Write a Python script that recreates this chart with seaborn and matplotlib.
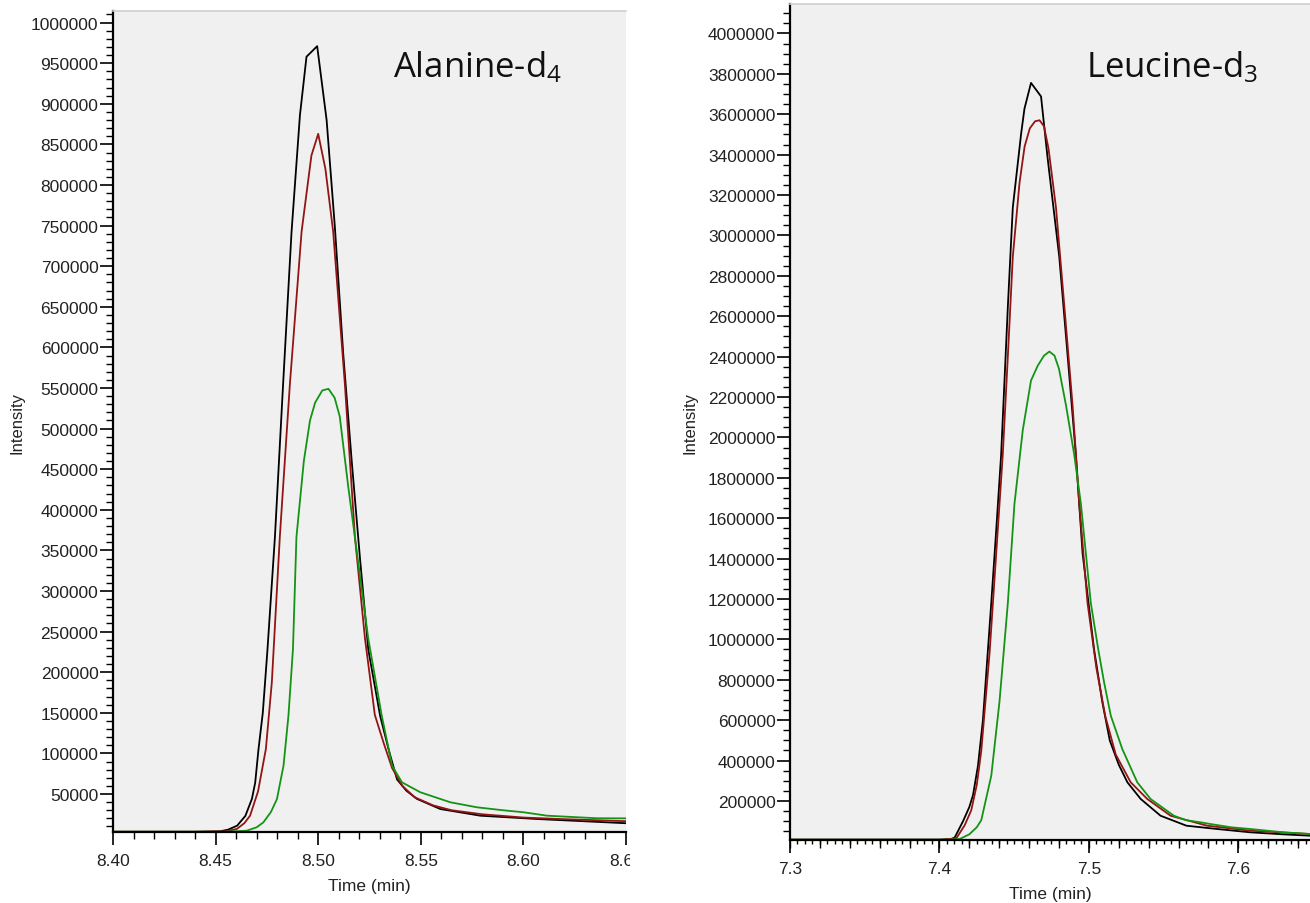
# =====================================================
# 1. IMPORT LIBRARY
# =====================================================
import pandas as pd
import numpy as np

import matplotlib
matplotlib.use("Agg")
import matplotlib.pyplot as plt
import seaborn as sns
from matplotlib.ticker import MultipleLocator, FormatStrFormatter
from matplotlib.transforms import Bbox, TransformedBbox

# =====================================================
# 2. DATA
# =====================================================
trace_order = ["black", "red", "green"]
trace_colors = {"black": "#000000", "red": "#941414", "green": "#149414"}

# ---- Alanine-d4 ----
ala_black_t = [8.400, 8.440, 8.452, 8.456, 8.4605, 8.4645, 8.4677, 8.4693, 8.4709, 8.4730,
               8.4752, 8.4789, 8.4829, 8.4870, 8.4911, 8.4943, 8.4995, 8.5041, 8.5081, 8.5122,
               8.5163, 8.5203, 8.5244, 8.5302, 8.5343, 8.5384, 8.5430, 8.5481, 8.5595, 8.5790,
               8.6067, 8.6408, 8.6500]
ala_black_i = [3500, 3500, 4000, 6000, 11000, 23000, 44000, 64000, 105000, 150000,
               225000, 366000, 555000, 742000, 886000, 958000, 971000, 880000, 749000, 592000,
               461000, 342000, 228000, 146000, 105000, 68000, 54000, 44000, 31500, 23300,
               19200, 15100, 14000]

ala_red_t = [8.400, 8.440, 8.455, 8.4603, 8.4640, 8.4668, 8.4707, 8.4745, 8.4774, 8.4813,
             8.4862, 8.4919, 8.4967, 8.5000, 8.5035, 8.5073, 8.5130, 8.5179, 8.5228, 8.5276,
             8.5320, 8.5360, 8.5410, 8.5470, 8.5560, 8.5650, 8.5800, 8.6000, 8.6200, 8.6500]
ala_red_i = [3500, 3500, 4000, 6900, 14000, 23300, 53400, 105400, 187500, 366700,
             554700, 742500, 836400, 863000, 820000, 742500, 554700, 366700, 241400, 147400,
             112000, 82000, 60000, 46000, 36000, 30000, 25000, 21000, 19000, 16500]

ala_green_t = [8.400, 8.455, 8.4652, 8.4700, 8.4733, 8.4770, 8.4799, 8.4831, 8.4855, 8.4877,
               8.4894, 8.4930, 8.4960, 8.4985, 8.5020, 8.5050, 8.5080, 8.5105, 8.5146, 8.5195,
               8.5244, 8.5309, 8.5360, 8.5408, 8.5498, 8.5644, 8.5774, 8.5900, 8.6001, 8.6115,
               8.6360, 8.6500]
ala_green_i = [3500, 3500, 4800, 9000, 15100, 28000, 43800, 84900, 146400, 228500,
               366700, 460000, 510000, 532000, 547000, 549000, 538000, 515000, 429300, 335300,
               241400, 147400, 84900, 64400, 52100, 39800, 33600, 30000, 27500, 23300,
               20100, 20000]

# ---- Leucine-d3 ----
leu_black_t = [7.300, 7.400, 7.4080, 7.4102, 7.4158, 7.4200, 7.4225, 7.4258, 7.4291, 7.4325,
               7.4347, 7.4380, 7.4413, 7.4458, 7.4491, 7.4547, 7.4569, 7.4613, 7.4680, 7.4724,
               7.4802, 7.4858, 7.4913, 7.4958, 7.5035, 7.5090, 7.5140, 7.5200, 7.5258, 7.5347,
               7.5480, 7.5653, 7.5858, 7.6080, 7.6300, 7.6480]
leu_black_i = [8500, 8500, 12000, 19000, 100000, 170000, 230000, 374800, 600000, 952500,
               1181000, 1540000, 1915000, 2649000, 3138000, 3505000, 3627000, 3755000, 3688000, 3383000,
               2894000, 2404000, 1915000, 1426000, 950000, 690000, 500000, 380000, 292500, 210000,
               127000, 77700, 61400, 45000, 35000, 28200]

leu_red_t = [7.300, 7.402, 7.4113, 7.4169, 7.4213, 7.4250, 7.4280, 7.4336, 7.4380, 7.4424,
             7.4458, 7.4491, 7.4536, 7.4570, 7.4605, 7.4640, 7.4670, 7.4700, 7.4730, 7.4780,
             7.4836, 7.4891, 7.4936, 7.4991, 7.5050, 7.5110, 7.5180, 7.5280, 7.5391, 7.5547,
             7.5791, 7.6080, 7.6480]
leu_red_i = [8500, 8500, 15000, 80000, 154000, 280000, 447500, 936600, 1426000, 1915000,
             2404000, 2894000, 3260000, 3440000, 3530000, 3565000, 3570000, 3540000, 3430000, 3138000,
             2649000, 2159000, 1670000, 1181000, 860000, 620000, 430000, 292500, 210000, 127000,
             77700, 53000, 36600]

leu_green_t = [7.300, 7.405, 7.4136, 7.4200, 7.4250, 7.4280, 7.4347, 7.4402, 7.4458, 7.4502,
               7.4558, 7.4613, 7.4658, 7.4700, 7.4736, 7.4770, 7.4800, 7.4847, 7.4902, 7.4947,
               7.4980, 7.5013, 7.5063, 7.5102, 7.5147, 7.5224, 7.5324, 7.5413, 7.5569, 7.5650,
               7.5747, 7.5813, 7.5950, 7.6080, 7.6302, 7.6480]
leu_green_i = [8500, 8500, 12000, 35000, 70000, 105000, 325000, 692000, 1181000, 1670000,
               2037000, 2282000, 2355000, 2405000, 2425000, 2405000, 2340000, 2159000, 1915000, 1670000,
               1426000, 1181000, 950000, 787600, 622000, 457000, 292500, 210000, 127000, 105000,
               94500, 86100, 70000, 61400, 45000, 36600]


# =====================================================
# 3. BUILD FRAME
# =====================================================
def make_frame(traces):
    parts = []
    for name, t, i in traces:
        parts.append(pd.DataFrame({"time": t, "intensity": i, "trace": name}))
    return pd.concat(parts, ignore_index=True)


# =====================================================
# 4. STYLE ONE PANEL
# =====================================================
def style_panel(ax, xlim, ylim, xmaj, xmin, ymaj, ymin, xfmt):
    ax.set_facecolor("#f0f0f0")
    ax.set_xlim(*xlim)
    ax.set_ylim(*ylim)

    ax.xaxis.set_major_locator(MultipleLocator(xmaj))
    ax.xaxis.set_minor_locator(MultipleLocator(xmin))
    ax.yaxis.set_major_locator(MultipleLocator(ymaj))
    ax.yaxis.set_minor_locator(MultipleLocator(ymin))
    ax.xaxis.set_major_formatter(FormatStrFormatter(xfmt))
    ax.yaxis.set_major_formatter(FormatStrFormatter("%d"))

    for side in ["left", "bottom"]:
        ax.spines[side].set_color("black")
        ax.spines[side].set_linewidth(1.6)
    ax.spines["top"].set_color("#cfcfcf")
    ax.spines["top"].set_linewidth(1.2)
    ax.spines["right"].set_visible(False)

    ax.tick_params(axis="both", which="major", direction="out", length=9.5, width=1.2,
                   color="black", labelsize=12.5, labelcolor="#222222")
    ax.tick_params(axis="both", which="minor", direction="out", length=5, width=1.0,
                   color="black")
    ax.tick_params(axis="y", which="major", pad=1.0)
    ax.tick_params(axis="x", which="major", pad=5.5)
    ax.tick_params(left=True, bottom=True, which="both")


def draw_panel(ax, df, title, tx, ty):
    sns.lineplot(data=df, x="time", y="intensity", hue="trace", hue_order=trace_order,
                 palette=trace_colors, estimator=None, sort=False, legend=False,
                 linewidth=1.3, ax=ax)
    ax.set_xlabel("Time (min)", fontsize=12.5, color="#222222")
    ax.set_ylabel("Intensity", fontsize=12, color="#222222")
    ax.text(tx, ty, title, transform=ax.transAxes, fontsize=25, family="Open Sans",
            ha="left", va="baseline", color="#111111")


# =====================================================
# 5. MAIN
# =====================================================
def run():
    sns.set_theme(style="white")
    plt.rcParams["font.family"] = ["Liberation Sans", "DejaVu Sans"]

    W, H = 1310, 904
    fig = plt.figure(figsize=(W / 100, H / 100), dpi=100)
    ax1 = fig.add_axes([113 / W, 1 - 833 / H, (626 - 113) / W, (833 - 12) / H])
    ax2 = fig.add_axes([790 / W, 1 - 841 / H, (1310 - 790) / W, (841 - 5) / H])

    ala = make_frame([("black", ala_black_t, ala_black_i),
                      ("red", ala_red_t, ala_red_i),
                      ("green", ala_green_t, ala_green_i)])
    leu = make_frame([("black", leu_black_t, leu_black_i),
                      ("red", leu_red_t, leu_red_i),
                      ("green", leu_green_t, leu_green_i)])

    draw_panel(ax1, ala, "Alanine-d$\\mathregular{_4}$", 0.546, 0.92)
    draw_panel(ax2, leu, "Leucine-d$\\mathregular{_3}$", 0.569, 0.913)

    style_panel(ax1, (8.40, 8.65), (3200, 1014300), 0.05, 0.01, 50000, 10000, "%.2f")
    style_panel(ax2, (7.30, 7.648), (6900, 4145600), 0.1, 0.005, 200000, 50000, "%.1f")
    ax2.tick_params(axis="x", which="minor", length=3)

    # medium ticks every 0.02 min on the right panel
    sec = ax2.secondary_xaxis("bottom")
    sec.xaxis.set_major_locator(MultipleLocator(0.02))
    sec.tick_params(length=6, width=1.0, color="black", labelbottom=False)
    sec.spines["bottom"].set_visible(False)

    ax1.xaxis.set_label_coords(0.5, -0.056)
    ax2.xaxis.set_label_coords(0.5, -0.055)
    ax1.yaxis.set_label_coords(-0.173, 0.5)
    ax2.yaxis.set_label_coords(-0.177, 0.5)

    # left picture is cropped just after the axes edge
    fig.canvas.draw()
    clip = TransformedBbox(Bbox([[0, 0], [630 / W, 1]]), fig.transFigure)
    for lbl in ax1.get_xticklabels():
        lbl.set_clip_box(clip)
        lbl.set_clip_on(True)

    fig.savefig("out.png", dpi=100, facecolor="white")


if __name__ == "__main__":
    run()
